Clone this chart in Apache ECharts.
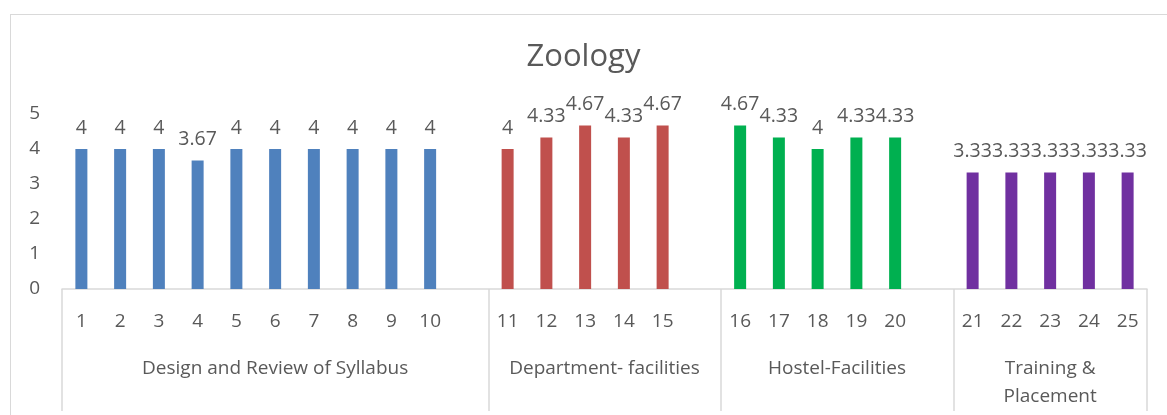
<!DOCTYPE html>
<html>
<head>
<meta charset="utf-8">
<script src="https://cdn.jsdelivr.net/npm/echarts@6/dist/echarts.min.js"></script>
<style>
  html, body { margin: 0; padding: 0; background: #fff; }
  #frame { position: absolute; left: 10px; top: 14px; width: 1300px; height: 500px;
           border: 1px solid #d9d9d9; box-sizing: border-box; }
  #chart { position: absolute; left: 0; top: 0; width: 1167px; height: 415px; }
</style>
</head>
<body>
<div id="frame"></div>
<div id="chart"></div>
<script>
// 数据
const groupNames = ['Design and Review of Syllabus', 'Department- facilities', 'Hostel-Facilities', 'Training &\nPlacement'];
const groupItems = [
  ['1', '2', '3', '4', '5', '6', '7', '8', '9', '10'],
  ['11', '12', '13', '14', '15'],
  ['16', '17', '18', '19', '20'],
  ['21', '22', '23', '24', '25'],
];
const syllabusValues = [4, 4, 4, 3.67, 4, 4, 4, 4, 4, 4];
const departmentValues = [4, 4.33, 4.67, 4.33, 4.67];
const hostelValues = [4.67, 4.33, 4, 4.33, 4.33];
const trainingValues = [3.33, 3.33, 3.33, 3.33, 3.33];
const yTicks = [0, 1, 2, 3, 4, 5];

// 样式
const groupColors = ['#4f81bd', '#c0504d', '#00b050', '#7030a0'];
const textColor = '#595959';
const lineColor = '#d9d9d9';
const fontFamily = '"Open Sans", "Noto Sans", sans-serif';

// 拼类目轴：每组后面空一格（最后一组不空）
const groupValues = [syllabusValues, departmentValues, hostelValues, trainingValues];
const categories = [];
const groupStart = [];
const groupSpan = [];
const seriesData = groupValues.map(() => []);
groupItems.forEach((items, g) => {
  groupStart.push(categories.length);
  items.forEach((name, i) => {
    categories.push(name);
    seriesData.forEach((arr, k) => arr.push(k === g ? groupValues[g][i] : '-'));
  });
  if (g < groupItems.length - 1) {
    categories.push('');
    seriesData.forEach(arr => arr.push('-'));
  }
  groupSpan.push(categories.length - groupStart[g]);
});
// 组名放在每组的中点
const groupCenter = {};
groupStart.forEach((s, g) => { groupCenter[(s + groupSpan[g] / 2).toFixed(1)] = groupNames[g]; });

const series = seriesData.map((data, k) => ({
  type: 'bar',
  stack: 'all',
  data,
  barWidth: 12,
  itemStyle: { color: groupColors[k] },
  label: {
    show: true,
    position: 'top',
    distance: 11,
    color: textColor,
    fontSize: 19.5,
    fontFamily,
  },
}));

const myChart = echarts.init(document.getElementById('chart'), null, { renderer: 'canvas' });
const option = {
  animation: false,
  title: {
    text: 'Zoology',
    left: 'center',
    top: 37,
    textStyle: { color: textColor, fontSize: 31, fontWeight: 'normal', fontFamily },
  },
  grid: { left: 62, right: 20, top: 114, bottom: 126, containLabel: false },
  xAxis: [
    {
      type: 'category',
      data: categories,
      axisLine: { show: true, lineStyle: { color: lineColor, width: 1.5 } },
      axisTick: {
        show: true,
        length: 122,
        lineStyle: { color: lineColor, width: 1.5 },
        interval: (idx) => groupStart.includes(idx),
      },
      axisLabel: { color: textColor, fontSize: 19, fontFamily, margin: 23, interval: 0 },
    },
    {
      type: 'value',
      position: 'bottom',
      min: 0,
      max: categories.length,
      interval: 0.5,
      axisLine: { show: false },
      axisTick: { show: false },
      splitLine: { show: false },
      axisLabel: {
        color: textColor,
        fontSize: 19,
        fontFamily,
        margin: 66,
        lineHeight: 28,
        verticalAlign: 'top',
        formatter: (v) => groupCenter[v.toFixed(1)] || '',
      },
    },
  ],
  yAxis: {
    type: 'value',
    min: yTicks[0],
    max: yTicks[yTicks.length - 1],
    interval: 1,
    axisLine: { show: false },
    axisTick: { show: false },
    splitLine: { show: false },
    axisLabel: { color: textColor, fontSize: 19, fontFamily, margin: 22 },
  },
  series,
};
myChart.setOption(option);
</script>
</body>
</html>
